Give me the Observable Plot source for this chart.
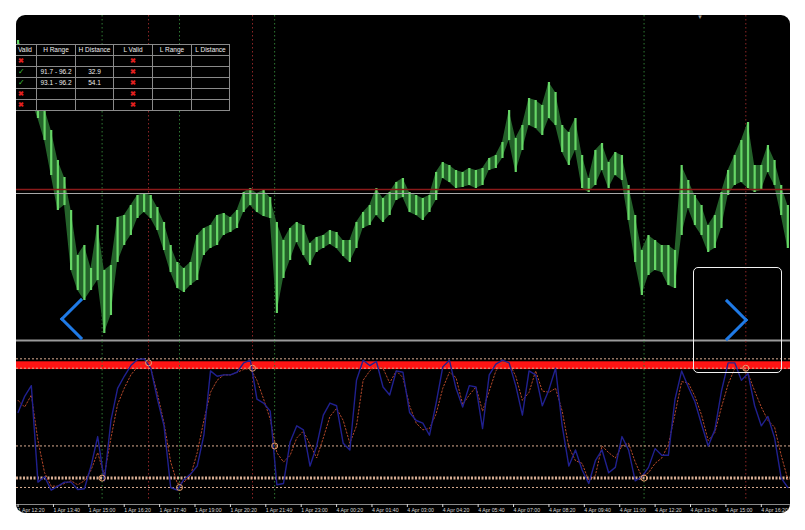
<!DOCTYPE html>
<html><head><meta charset="utf-8">
<script src="https://cdn.jsdelivr.net/npm/d3@7"></script>
<script src="https://cdn.jsdelivr.net/npm/@observablehq/plot@0.6"></script>
<style>
html,body{margin:0;padding:0;background:#fff;}
#wrap{position:relative;width:805px;height:530px;background:#fff;overflow:hidden;font-family:"Liberation Sans",Arial,sans-serif;}
#panel{position:absolute;left:16px;top:15px;width:774px;height:498px;background:#000;border-radius:9px;overflow:hidden;}
#tbl{position:absolute;left:-19px;top:29px;border-collapse:collapse;table-layout:fixed;background:#000;}
#tbl td{border:1px solid #8a8a8a;height:10px;padding:0;font-size:6.5px;line-height:10px;color:#eee;text-align:center;white-space:nowrap;overflow:hidden;}
#tbl td.first{text-align:left;padding-left:20px;}
#tbl .x{color:#e02020;font-size:7px;font-weight:bold;}
#tbl .ok{color:#3cbf3c;font-size:8px;}
#box{position:absolute;left:677px;top:252px;width:89px;height:106px;box-sizing:border-box;border:1.5px solid #f2f2f2;border-radius:5px;}
.chev{position:absolute;width:30px;height:30px;box-sizing:border-box;transform:rotate(45deg);}
#chevR{left:696px;top:290px;border-top:3.5px solid #1f7ae6;border-right:3.5px solid #1f7ae6;}
#chevL{left:50px;top:289px;border-bottom:3.5px solid #1f7ae6;border-left:3.5px solid #1f7ae6;}
#tri{position:absolute;left:681px;top:-1px;color:#9a9a9a;font-size:6px;}
</style></head>
<body><div id="wrap"><div id="panel"></div></div>
<script>
// ---- price bars (sampled every 3 M5 bars) ----
const priceHigh = [300,290,272,245,232,210,180,163,130,85,
  95,72,115,70,75,123,125,135,145,147,
  145,133,118,95,78,72,78,105,112,115,
  125,127,123,130,148,152,147,150,143,118,
  100,112,118,115,97,103,105,110,108,100,
  100,118,128,135,152,142,148,158,162,148,
  145,142,145,168,178,175,170,168,172,170,
  172,182,185,198,230,202,215,242,240,235,
  258,248,215,208,222,185,162,190,197,178,
  188,185,155,125,90,105,100,95,95,90,
  175,160,145,135,115,125,148,170,185,200,
  218,175,175,195,180,155,135];
const priceLow = [278,260,240,222,200,165,130,135,70,50,
  40,50,60,7,25,78,95,105,122,128,
  122,110,90,68,52,48,55,60,85,92,
  95,105,108,112,128,135,128,124,122,27,
  62,80,98,85,75,88,92,96,92,84,
  78,92,112,115,125,118,125,140,143,128,
  125,120,128,140,162,158,152,153,155,152,
  155,170,172,182,200,168,190,215,212,205,
  222,215,188,175,190,152,148,155,170,152,
  165,160,120,78,45,65,70,68,55,52,
  105,132,115,105,88,92,112,145,155,158,
  152,148,150,168,155,125,92];
const priceLevelRed = 151;
const priceLevelGray = 147;

// ---- stochastic ----
const stochMain = [59,71,79,7,11,1,4,7,7,1.5,
  2,19,41,8,53,77,86,94,98.5,99,
  92,69,49,3,1,9,13,19,42,90,
  86,87,87,89,96,98,69,66,60,5,
  6,37,49,46,19,34,57,66,64,36,
  31,83,98,94,97,78,72,90,89,59,
  53,51,42,66,93,98,77,63,79,78,
  47,87,95,98,96,79,57,90,87,64,
  76,92,49,19,31,16,6,23,31,14,
  18,41,31,8,11,18,32,27,27,69,
  90,78,67,50,34,46,75,96,96,83,
  88,64,49,56,40,10,3];
const stochSignal = [68,63,72,38,14,4,4,6,8,5,
  8,16,29,12,40,65,77,87,93,96,
  92,73,51,22,6,7,12,29,53,74,
  83,87,87,89,91,92,83,69,54,29,
  22,27,40,45,35,25,40,56,62,53,
  36,49,83,90,94,92,81,90,85,64,
  51,46,47,58,77,89,85,65,72,78,
  60,75,90,96,96,86,68,74,90,75,
  74,77,60,33,23,21,8,12,34,29,
  25,34,36,22,11,14,21,25,35,58,
  82,81,71,57,38,44,63,80,92,94,
  88,75,63,53,48,27,9];
const stochLevelsThin = [99, 92, 34, 3];
const stochLevelThick = 10;
const bandLow = 91, bandHigh = 96.8;
const markerIdx = [38, 59, 73, 106, 116, 283, 329];
const markerVal = [10, 96, 3, 92, 34, 10, 92];
const sepGreen = [38, 73, 116, 283];
const sepRed = [59, 106, 329];

// ---- time axis ----
const tickIdx = [0,16,32,48,64,80,96,112,128,144,160,176,192,208,224,240,256,272,288,304,320,336];
const timeLabels = ["1 Apr 12:20","1 Apr 13:40","1 Apr 15:00","1 Apr 16:20","1 Apr 17:40","1 Apr 19:00","1 Apr 20:20","1 Apr 21:40","1 Apr 23:00","4 Apr 00:20","4 Apr 01:40","4 Apr 03:00","4 Apr 04:20","4 Apr 05:40","4 Apr 07:00","4 Apr 08:20","4 Apr 09:40","4 Apr 11:00","4 Apr 12:20","4 Apr 13:40","4 Apr 15:00","4 Apr 16:20"];

// ---- table ----
const tableHeaders = ["Valid","H Range","H Distance","L Valid","L Range","L Distance"];
const tableRows = [
  ["x","","","x","",""],
  ["ok","91.7 - 96.2","32.9","x","",""],
  ["ok","93.1 - 96.2","54.1","x","",""],
  ["x","","","x","",""],
  ["x","","","x","",""]
];
const colWidths = [39,39,38,39,39,38];

const xDomain = [-0.7, 349.2];
const barStep = 3;
const ks = d3.range(priceHigh.length);
const svgStyle = {background:"transparent", maxWidth:"none", position:"absolute", left:"-16px", top:"-15px", overflow:"visible", fontFamily:"'Liberation Sans', Arial, sans-serif"};
const panel = document.getElementById("panel");

const pricePlot = Plot.plot({
  width: 805, height: 340, marginLeft: 16, marginRight: 15, marginTop: 15, marginBottom: 0,
  x: {domain: xDomain, axis: null}, y: {domain: [0, 325], axis: null},
  style: svgStyle,
  marks: [
    Plot.ruleX(sepGreen, {stroke: "#2f7a34", strokeDasharray: "1.5,2.5"}),
    Plot.ruleX(sepRed, {stroke: "#8e2626", strokeDasharray: "1.5,2.5"}),
    Plot.areaY(ks, {x: k => k * barStep, y1: k => priceLow[k], y2: k => priceHigh[k], curve: "linear", fill: "#24622a"}),
    Plot.ruleX(ks, {x: k => k * barStep, y1: k => priceLow[k], y2: k => priceHigh[k], stroke: "#66d666", strokeWidth: 2.2}),
    Plot.ruleY([priceLevelRed], {stroke: "#8b1a1a", strokeWidth: 1.5}),
    Plot.ruleY([priceLevelGray], {stroke: "#a8a8a8", strokeWidth: 1}),
    Plot.frame({anchor: "bottom", stroke: "#9a9a9a", strokeWidth: 2})
  ]
});
panel.appendChild(pricePlot);

const stochPlot = Plot.plot({
  width: 805, height: 530, marginLeft: 16, marginRight: 15, marginTop: 357, marginBottom: 39,
  x: {domain: xDomain, axis: null}, y: {domain: [0, 100], axis: null},
  style: svgStyle,
  marks: [
    Plot.rect([0], {x1: () => xDomain[0], x2: () => xDomain[1], y1: () => bandLow, y2: () => bandHigh, fill: "#ff1414"}),
    Plot.ruleX(sepGreen, {stroke: "#2f7a34", strokeDasharray: "1.5,2.5", insetTop: -16, insetBottom: -9}),
    Plot.ruleX(sepRed, {stroke: "#8e2626", strokeDasharray: "1.5,2.5", insetTop: -16, insetBottom: -9}),
    Plot.ruleY(stochLevelsThin, {stroke: "#dcae92", strokeDasharray: "2,2", strokeWidth: 1}),
    Plot.ruleY([stochLevelThick], {stroke: "#d8ae94", strokeDasharray: "2,1.5", strokeWidth: 3}),
    Plot.line(ks, {x: k => k * barStep, y: k => stochSignal[k], stroke: "#b4482a", strokeDasharray: "1.5,2", strokeWidth: 1}),
    Plot.line(ks, {x: k => k * barStep, y: k => stochMain[k], stroke: "#20208f", strokeWidth: 1.4}),
    Plot.dot(markerIdx, {x: d => d, y: (d, i) => markerVal[i], r: 3, stroke: "#e6a070", fill: "none", strokeWidth: 1})
  ]
});
panel.appendChild(stochPlot);

const labelByIdx = new Map(tickIdx.map((t, i) => [t, timeLabels[i]]));
const axisPlot = Plot.plot({
  width: 805, height: 530, marginLeft: 16, marginRight: 15, marginTop: 0, marginBottom: 26,
  x: {domain: xDomain}, y: {domain: [0, 1], axis: null},
  style: svgStyle,
  marks: [
    Plot.frame({anchor: "bottom", stroke: "#8a8a8a"}),
    Plot.axisX(tickIdx, {anchor: "bottom", tickSize: 3, tickPadding: 0.5, textAnchor: "start", dx: 0,
      tickFormat: d => labelByIdx.get(d), fontSize: 5.2, color: "#d8d8d8", label: null})
  ]
});
panel.appendChild(axisPlot);

// table overlay
const tbl = document.createElement("table");
tbl.id = "tbl";
const colg = document.createElement("colgroup");
colWidths.forEach(w => { const c = document.createElement("col"); c.style.width = w + "px"; colg.appendChild(c); });
tbl.appendChild(colg);
const hr = document.createElement("tr");
tableHeaders.forEach((h, j) => { const td = document.createElement("td"); td.textContent = h; if (j === 0) td.classList.add("first"); hr.appendChild(td); });
tbl.appendChild(hr);
tableRows.forEach(r => {
  const tr = document.createElement("tr");
  r.forEach((v, j) => {
    const td = document.createElement("td");
    if (v === "x") { td.className = "x"; td.textContent = "✖"; }
    else if (v === "ok") { td.className = "ok"; td.textContent = "✓"; }
    else td.textContent = v;
    if (j === 0) td.classList.add("first");
    tr.appendChild(td);
  });
  tbl.appendChild(tr);
});
panel.appendChild(tbl);

["box","chevL","chevR","tri"].forEach(id => {
  const d = document.createElement("div");
  d.id = id;
  if (id.startsWith("chev")) d.className = "chev";
  if (id === "tri") d.textContent = "▼";
  panel.appendChild(d);
});
</script>
</body></html>
